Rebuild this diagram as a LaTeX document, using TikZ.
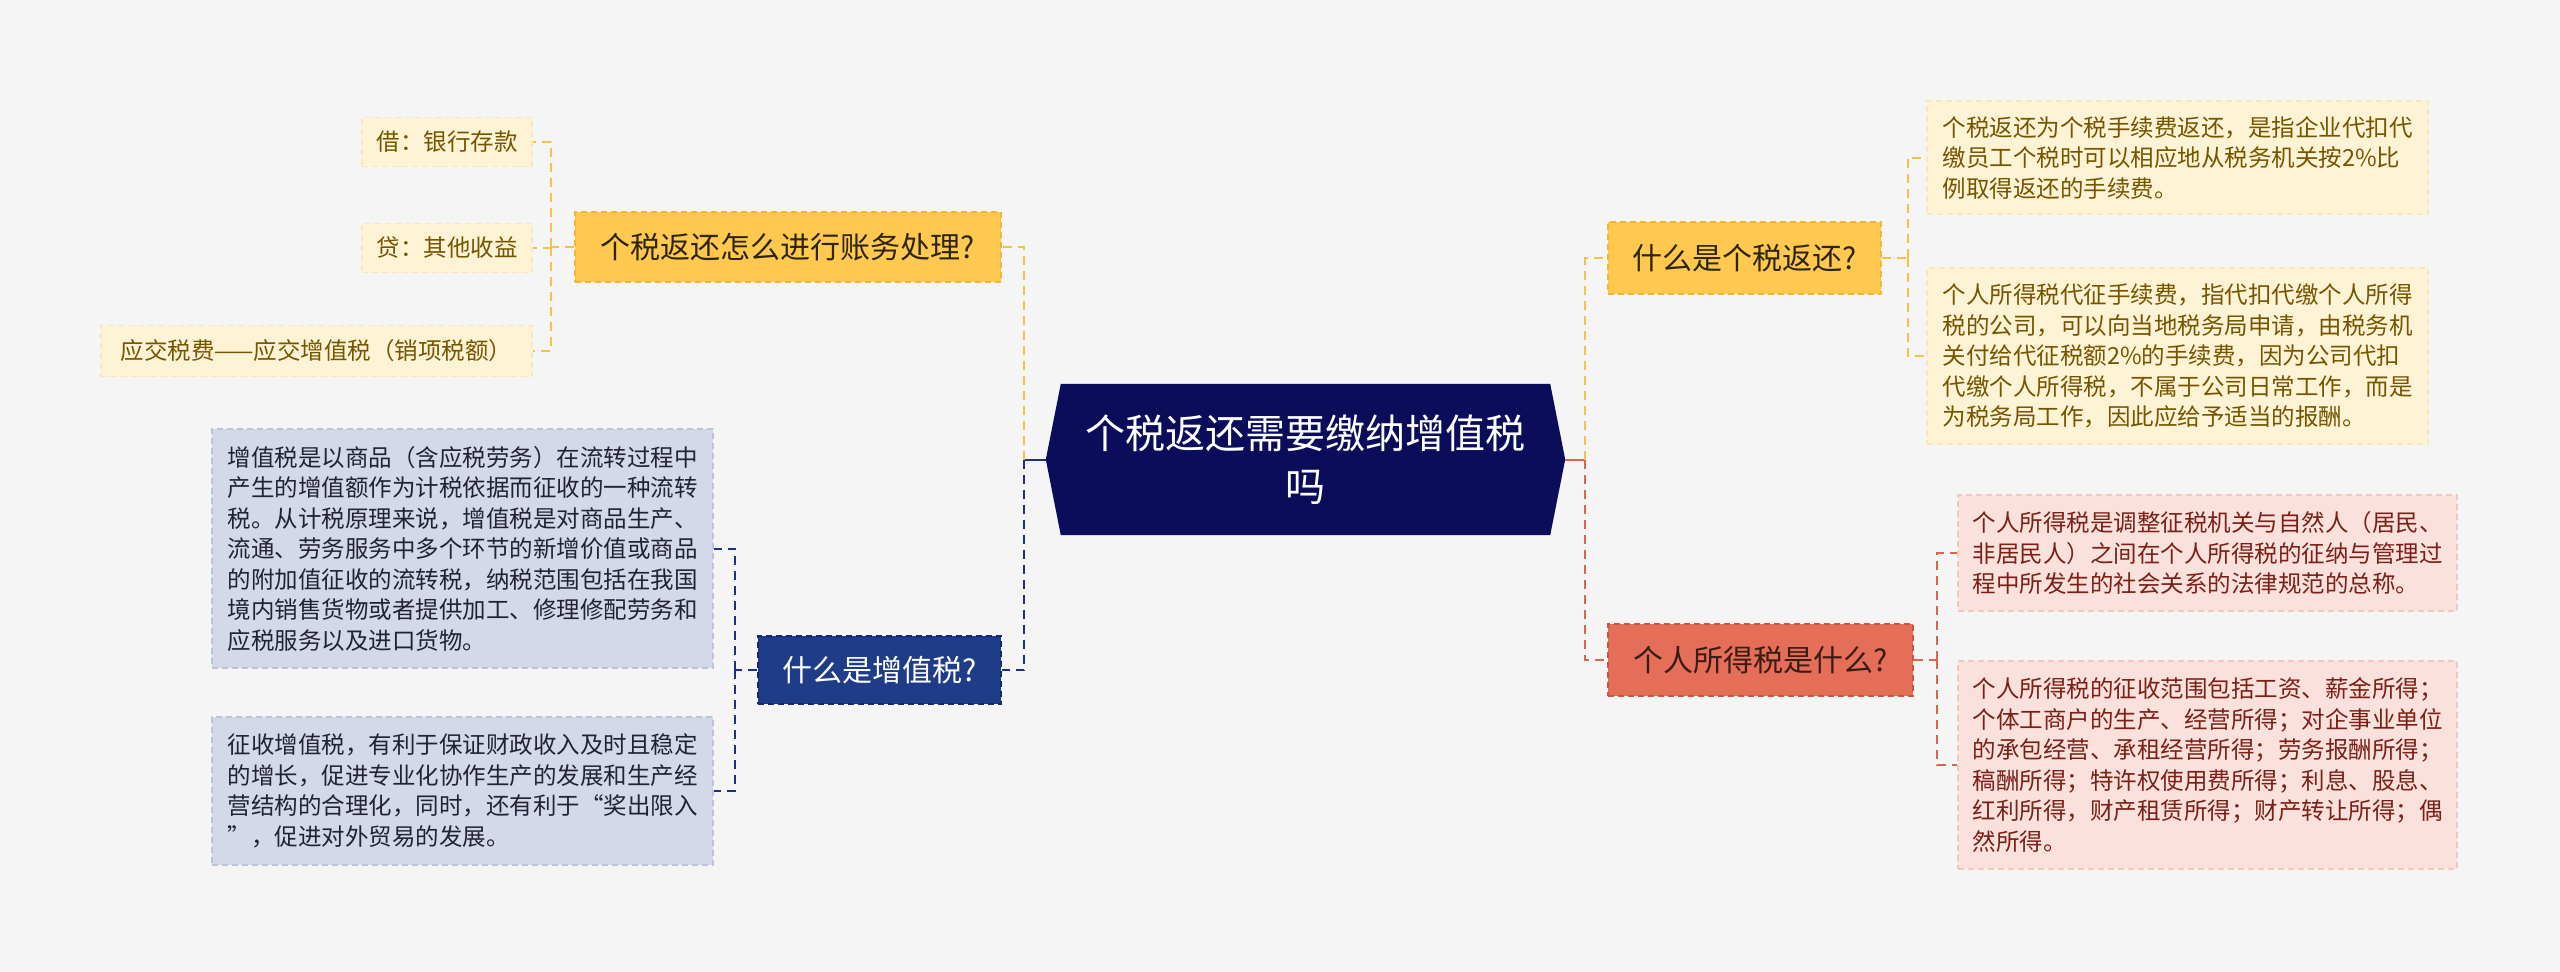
\documentclass[tikz,border=0pt]{standalone}
\usepackage{fontspec}
\newfontfamily\cjk{Noto Sans CJK SC}
\usetikzlibrary{backgrounds}
\definecolor{bg}{HTML}{F5F5F5}
\definecolor{navy}{HTML}{0B0D5B}
\definecolor{yelF}{HTML}{FFC94F}
\definecolor{yelB}{HTML}{F2B535}
\definecolor{yelL}{HTML}{FEF3D5}
\definecolor{yelLB}{HTML}{F8E7BC}
\definecolor{yelT}{HTML}{765500}
\definecolor{yelD}{HTML}{2E2510}
\definecolor{yelC}{HTML}{F6C04A}
\definecolor{bluF}{HTML}{1F3C88}
\definecolor{bluB}{HTML}{15286A}
\definecolor{bluL}{HTML}{D3D9E8}
\definecolor{bluLB}{HTML}{BCC4DA}
\definecolor{bluT}{HTML}{222233}
\definecolor{bluC}{HTML}{1E3080}
\definecolor{redF}{HTML}{E46E58}
\definecolor{redB}{HTML}{C9553F}
\definecolor{redL}{HTML}{FAE1DC}
\definecolor{redLB}{HTML}{F0C8C0}
\definecolor{redT}{HTML}{7B2016}
\definecolor{redD}{HTML}{3A1C14}
\definecolor{redC}{HTML}{DA644C}
\tikzset{
  box/.style={inner sep=0pt, align=left, line width=1.2pt, dash pattern=on 6pt off 4pt},
  leaftext/.style={font=\cjk\fontsize{23.5}{30.5}\selectfont},
  branchtext/.style={font=\cjk\fontsize{30}{36}\selectfont},
  leafY/.style={box, leaftext, fill=yelL, draw=yelLB, text=yelT},
  leafB/.style={box, leaftext, fill=bluL, draw=bluLB, text=bluT},
  leafR/.style={box, leaftext, fill=redL, draw=redLB, text=redT},
  branchY/.style={box, branchtext, fill=yelF, draw=yelB, text=yelD},
  branchB/.style={box, branchtext, fill=bluF, draw=bluB, text=white},
  branchR/.style={box, branchtext, fill=redF, draw=redB, text=redD},
  con/.style={line width=2pt, dash pattern=on 9pt off 6pt},
  conY/.style={con, draw=yelC},
  conB/.style={con, draw=bluC},
  conR/.style={con, draw=redC},
}
\begin{document}
\begin{tikzpicture}[x=1pt,y=-1pt]
\useasboundingbox (0,0) rectangle (2560,972);
\begin{scope}[on background layer]
\fill[bg] (0,0) rectangle (2560,972);
\end{scope}

% central
\node[inner sep=0pt, minimum width=489, minimum height=151, align=center, text=white,
      font=\cjk\fontsize{40}{53}\selectfont] (c) at (1305.5,459.5) {个税返还需要缴纳增值税\\吗};
\begin{scope}[on background layer]
\fill[navy] (c.north west) -- (c.north east) -- ([xshift=15pt]c.east) -- (c.south east)
  -- (c.south west) -- ([xshift=-15pt]c.west) -- cycle;
\end{scope}
\coordinate (cTL) at ([xshift=-15pt]c.west);
\coordinate (cTR) at ([xshift=15pt]c.east);
\coordinate (cL) at (1024,459.5);
\coordinate (cR) at (1585,459.5);

% left yellow
\node[branchY, minimum width=426, minimum height=70, align=center] (lb) at (788,247) {个税返还怎么进行账务处理?};
\node[leafY, minimum width=170, minimum height=49, align=center] (l1) at (447,142) {借：银行存款};
\node[leafY, minimum width=170, minimum height=49, align=center] (l2) at (447,248) {贷：其他收益};
\node[leafY, minimum width=431, minimum height=51, align=center] (l3) at (316.5,351) {应交税费——应交增值税（销项税额）};

% left blue
\node[branchB, minimum width=243, minimum height=68, align=center] (vb) at (879.5,670) {什么是增值税?};
\node[leafB, minimum width=501, minimum height=239] (v1) at (462.5,548.5) {增值税是以商品（含应税劳务）在流转过程中\\产生的增值额作为计税依据而征收的一种流转\\税。从计税原理来说，增值税是对商品生产、\\流通、劳务服务中多个环节的新增价值或商品\\的附加值征收的流转税，纳税范围包括在我国\\境内销售货物或者提供加工、修理修配劳务和\\应税服务以及进口货物。};
\node[leafB, minimum width=501, minimum height=148] (v2) at (462.5,791) {征收增值税，有利于保证财政收入及时且稳定\\的增长，促进专业化协作生产的发展和生产经\\营结构的合理化，同时，还有利于“奖出限入\\”，促进对外贸易的发展。};

% right yellow
\node[branchY, minimum width=273, minimum height=72, align=center] (rb) at (1744.5,258) {什么是个税返还?};
\node[leafY, minimum width=501, minimum height=113] (r1) at (2177.5,157.5) {个税返还为个税手续费返还，是指企业代扣代\\缴员工个税时可以相应地从税务机关按2\%比\\例取得返还的手续费。};
\node[leafY, minimum width=501, minimum height=176] (r2) at (2177.5,356) {个人所得税代征手续费，指代扣代缴个人所得\\税的公司，可以向当地税务局申请，由税务机\\关付给代征税额2\%的手续费，因为公司代扣\\代缴个人所得税，不属于公司日常工作，而是\\为税务局工作，因此应给予适当的报酬。};

% right red
\node[branchR, minimum width=305, minimum height=72, align=center] (pb) at (1760.5,660) {个人所得税是什么?};
\node[leafR, minimum width=499, minimum height=116] (p1) at (2207.5,553) {个人所得税是调整征税机关与自然人（居民、\\非居民人）之间在个人所得税的征纳与管理过\\程中所发生的社会关系的法律规范的总称。};
\node[leafR, minimum width=499, minimum height=208] (p2) at (2207.5,765) {个人所得税的征收范围包括工资、薪金所得；\\个体工商户的生产、经营所得；对企事业单位\\的承包经营、承租经营所得；劳务报酬所得；\\稿酬所得；特许权使用费所得；利息、股息、\\红利所得，财产租赁所得；财产转让所得；偶\\然所得。};

% central connectors
\draw[line width=2pt, bluC] (cTL) -- (cL);
\draw[line width=2pt, redC] (cTR) -- (cR);
\draw[conY] (cL) |- (lb.east);
\draw[conB] (cL) |- (vb.east);
\draw[conY] (cR) |- (rb.west);
\draw[conR] (cR) |- (pb.west);

% branch to leaves
\coordinate (lbx) at ([xshift=-23pt]lb.west);
\draw[conY] (lb.west) -- (lbx);
\draw[conY] (lbx) |- (l1.east);
\draw[conY] (lbx) |- (l2.east);
\draw[conY] (lbx) |- (l3.east);

\coordinate (vbx) at ([xshift=-22pt]vb.west);
\draw[conB] (vb.west) -- (vbx);
\draw[conB] (vbx) |- (v1.east);
\draw[conB] (vbx) |- (v2.east);

\coordinate (rbx) at ([xshift=26pt]rb.east);
\draw[conY] (rb.east) -- (rbx);
\draw[conY] (rbx) |- (r1.west);
\draw[conY] (rbx) |- (r2.west);

\coordinate (pbx) at ([xshift=23pt]pb.east);
\draw[conR] (pb.east) -- (pbx);
\draw[conR] (pbx) |- (p1.west);
\draw[conR] (pbx) |- (p2.west);
\end{tikzpicture}
\end{document}
